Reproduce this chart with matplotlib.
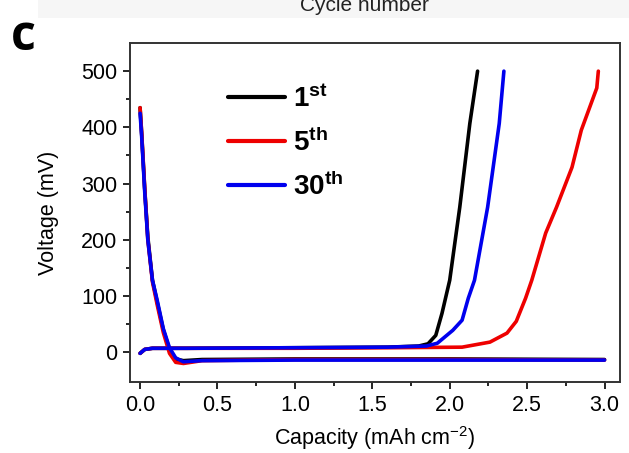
import matplotlib.pyplot as plt
from matplotlib.patches import Rectangle

plt.rcParams['font.family'] = ['Liberation Sans', 'DejaVu Sans']
plt.rcParams['mathtext.fontset'] = 'custom'
plt.rcParams['mathtext.rm'] = 'Liberation Sans'
plt.rcParams['mathtext.bf'] = 'Liberation Sans:bold'

# discharge branches (capacity in mAh cm-2, voltage in mV)
dis_cap = [0, 0.01, 0.03, 0.05, 0.08, 0.11, 0.15, 0.19, 0.23, 0.28, 0.4, 1.0, 2.0, 3.0]
dis_v_1 = [435, 390, 290, 205, 128, 90, 40, 5, -12, -15, -13, -12, -12, -13]
dis_v_5 = [435, 392, 292, 200, 125, 85, 35, -2, -18, -20, -15, -13, -13, -14]
dis_v_30 = [425, 385, 285, 200, 128, 93, 42, 8, -10, -17, -15, -14, -14, -14]

# charge branches
chg_cap_1 = [0, 0.03, 0.08, 0.3, 1.0, 1.6, 1.8, 1.86, 1.91, 1.95, 2.0, 2.065, 2.13, 2.18]
chg_v_1 = [-2, 5, 7, 7, 8, 9, 11, 15, 30, 69, 128, 258, 407, 500]
chg_cap_5 = [0, 0.03, 0.08, 0.3, 1.0, 1.6, 2.08, 2.26, 2.37, 2.43, 2.49, 2.53, 2.62, 2.69,
             2.79, 2.85, 2.95, 2.96]
chg_v_5 = [-2, 5, 7, 7, 7, 8, 9, 18, 34, 55, 96, 128, 212, 258, 329, 395, 470, 500]
chg_cap_30 = [0, 0.03, 0.08, 0.3, 1.0, 1.6, 1.85, 1.92, 2.02, 2.08, 2.12, 2.16, 2.245, 2.32, 2.35]
chg_v_30 = [-2, 5, 7, 7, 8, 9, 11, 16, 39, 57, 96, 128, 258, 407, 500]

labels = [r'$\mathbf{1^{st}}$', r'$\mathbf{5^{th}}$', r'$\mathbf{30^{th}}$']
colors = ['black', '#ee0000', '#0000ee']

fig = plt.figure(figsize=(6.29, 4.53), dpi=100)
ax = fig.add_axes([0.2067, 0.1567, 0.7790, 0.7483])

# faint strip and cut-off label from the panel above
fig.patches.append(Rectangle((0.06, 0.96), 0.94, 0.04, transform=fig.transFigure,
                             facecolor='#f6f6f6', edgecolor='none', zorder=0))
fig.text(0.58, 0.988, 'Cycle number', ha='center', va='center', fontsize=15, color='#222222')
fig.text(0.018, 0.917, 'c', fontsize=35, fontweight='bold', family=['Open Sans', 'DejaVu Sans'],
         va='center', ha='left')

series = [(dis_v_1, chg_cap_1, chg_v_1), (dis_v_5, chg_cap_5, chg_v_5),
          (dis_v_30, chg_cap_30, chg_v_30)]
for (dv, cc, cv), c, lab in zip(series, colors, labels):
    ax.plot(dis_cap, dv, color=c, lw=2.6, solid_capstyle='round', solid_joinstyle='round')
    ax.plot(cc, cv, color=c, lw=2.6, solid_capstyle='round', solid_joinstyle='round', label=lab)

ax.set_xlim(-0.065, 3.1)
ax.set_ylim(-53, 550)
ax.set_xticks([0, 0.5, 1.0, 1.5, 2.0, 2.5, 3.0])
ax.set_xticks([0.25, 0.75, 1.25, 1.75, 2.25, 2.75], minor=True)
ax.set_yticks([0, 100, 200, 300, 400, 500])
ax.set_yticks([50, 150, 250, 350, 450], minor=True)
ax.tick_params(axis='both', which='major', direction='out', length=5, width=1.2,
               labelsize=15.5, pad=4)
ax.tick_params(axis='both', which='minor', direction='out', length=3, width=1.2)
for s in ax.spines.values():
    s.set_linewidth(1.4)
    s.set_color('#333333')

ax.set_xlabel(r'Capacity (mAh cm$^{-2}$)', fontsize=15.5, labelpad=6)
ax.set_ylabel('Voltage (mV)', fontsize=15.5, labelpad=16)

leg = ax.legend(loc='upper left', bbox_to_anchor=(0.2, 0.875), frameon=False, fontsize=20,
                handlelength=2.05, handletextpad=0.3, labelspacing=0.55,
                borderpad=0, borderaxespad=0)
for h in leg.get_lines():
    h.set_linewidth(3)

fig.savefig('out.png', dpi=100)
